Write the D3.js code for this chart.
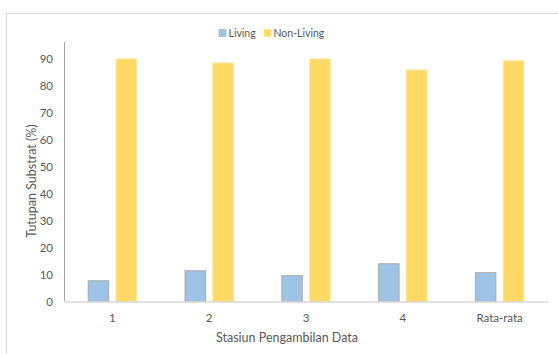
<!DOCTYPE html>
<html>
<head>
<meta charset="utf-8">
<script src="https://cdn.jsdelivr.net/npm/d3@7"></script>
<style>
  html, body { margin: 0; padding: 0; background: #fff; }
  svg { display: block; font-family: Lato, "Open Sans", sans-serif; }
</style>
</head>
<body>
<svg id="chart" width="558" height="354"></svg>
<script>
// Substrate cover per sampling station
const categories = ["1", "2", "3", "4", "Rata-rata"];
const seriesNames = ["Living", "Non-Living"];
const living = [7.7, 11.4, 9.6, 14.0, 10.7];
const nonLiving = [90.0, 88.5, 90.0, 85.9, 89.3];
const yTicks = [0, 10, 20, 30, 40, 50, 60, 70, 80, 90];

const colors = { "Living": "#9DC3E6", "Non-Living": "#FFD966" };
const strokes = { "Living": "#ABABAB", "Non-Living": "#FFE48F" };
const textColor = "#595959";

const svg = d3.select("#chart");

// outer chart frame
svg.append("rect")
  .attr("x", 6.5).attr("y", 13.5)
  .attr("width", 600).attr("height", 400)
  .attr("fill", "none").attr("stroke", "#D9D9D9");

const plot = { left: 64, right: 548, top: 42, bottom: 301.5 };

const y = d3.scaleLinear()
  .domain([0, 96.3])
  .range([plot.bottom, plot.top]);

const x = d3.scaleBand()
  .domain(categories)
  .range([plot.left, plot.right])
  .paddingInner(0.49)
  .paddingOuter(0.245);

const xs = d3.scaleBand()
  .domain(seriesNames)
  .range([0, x.bandwidth()])
  .paddingInner(0.23);

const rows = categories.map((c, i) => ({
  cat: c,
  values: [
    { key: "Living", value: living[i] },
    { key: "Non-Living", value: nonLiving[i] }
  ]
}));

// bars
const groups = svg.append("g").selectAll("g")
  .data(rows).join("g")
  .attr("transform", d => `translate(${x(d.cat)},0)`);

groups.selectAll("rect")
  .data(d => d.values).join("rect")
  .attr("x", d => xs(d.key) + 0.5)
  .attr("width", xs.bandwidth() - 1)
  .attr("y", d => y(d.value))
  .attr("height", d => y(0) - y(d.value))
  .attr("fill", d => colors[d.key])
  .attr("stroke", d => strokes[d.key])
  .attr("stroke-width", 1);

// y axis
const yAxis = svg.append("g")
  .attr("transform", `translate(${plot.left},0)`)
  .call(d3.axisLeft(y).tickValues(yTicks).tickSize(0).tickPadding(11));
yAxis.select(".domain").attr("stroke", "#A6A6A6").attr("d", `M0.5,${plot.top}V${plot.bottom}`);
yAxis.selectAll("text")
  .attr("fill", textColor).attr("font-size", 11.5)
  .attr("font-family", "Lato, sans-serif");

// x axis
const xAxis = svg.append("g")
  .attr("transform", `translate(0,${plot.bottom})`)
  .call(d3.axisBottom(x).tickSize(0).tickPadding(12));
xAxis.select(".domain").attr("stroke", "#D9D9D9").attr("stroke-width", 1.5);
xAxis.selectAll("text")
  .attr("fill", textColor).attr("font-size", 11.5)
  .attr("font-family", "Lato, sans-serif");

// axis titles
svg.append("text")
  .attr("x", 287).attr("y", 342)
  .attr("text-anchor", "middle")
  .attr("fill", textColor).attr("font-size", 12.5)
  .text("Stasiun Pengambilan Data");

svg.append("text")
  .attr("transform", "translate(36,181) rotate(-90)")
  .attr("text-anchor", "middle")
  .attr("fill", textColor).attr("font-size", 12.5)
  .text("Tutupan Substrat (%)");

// legend
const legend = svg.append("g").attr("transform", "translate(219,33)");
const legendX = [0, 45];
seriesNames.forEach((name, i) => {
  const g = legend.append("g").attr("transform", `translate(${legendX[i]},0)`);
  g.append("rect")
    .attr("x", 0).attr("y", -3.5).attr("width", 7).attr("height", 7)
    .attr("fill", colors[name]).attr("stroke", strokes[name]).attr("stroke-width", 0.6);
  g.append("text")
    .attr("x", 9.5).attr("y", 0).attr("dy", "0.35em")
    .attr("fill", textColor).attr("font-size", 10.5)
    .text(name);
});
</script>
</body>
</html>
